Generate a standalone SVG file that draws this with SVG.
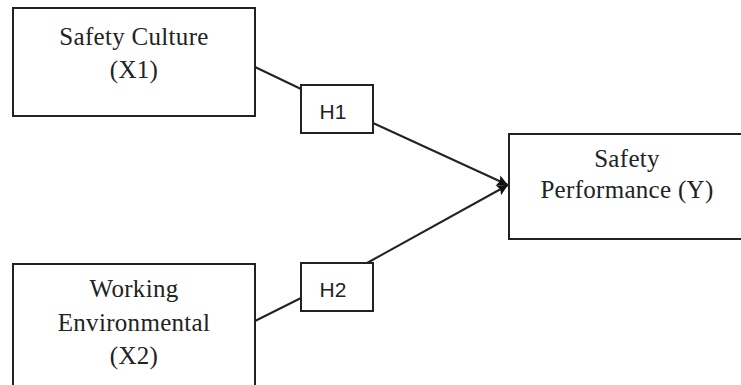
<svg xmlns="http://www.w3.org/2000/svg" width="741" height="385" viewBox="0 0 741 385">
<defs>
<style>
.box{fill:#fff;stroke:#222;stroke-width:2}
.serif{font-family:"Liberation Serif","Times New Roman",serif;font-size:25px;fill:#222;text-anchor:middle;letter-spacing:0.3px}
.sans{font-family:"Liberation Sans",Arial,sans-serif;font-size:21px;fill:#222;text-anchor:middle}
.edge{fill:none;stroke:#222;stroke-width:2}
</style>
<marker id="arrow" viewBox="0 0 10 10" refX="10" refY="5" markerWidth="12" markerHeight="11" markerUnits="userSpaceOnUse" orient="auto" overflow="visible">
<path d="M0,0 L10,5 L0,10 L2,5 z" fill="#111"/>
</marker>
</defs>
<rect width="741" height="385" fill="#fff"/>
<g id="connectors">
<line class="edge" x1="255" y1="67" x2="301" y2="89"/>
<line class="edge" x1="255" y1="321" x2="301" y2="298"/>
<line class="edge" x1="373" y1="123" x2="508" y2="185" marker-end="url(#arrow)"/>
<line class="edge" x1="367" y1="263" x2="508" y2="185" marker-end="url(#arrow)"/>
</g>
<g id="safety-culture">
<rect class="box" x="13" y="8" width="242" height="108"/>
<text class="serif" x="134" y="45">Safety Culture</text>
<text class="serif" x="134" y="78">(X1)</text>
</g>
<g id="working-environmental">
<rect class="box" x="13" y="264" width="242" height="130"/>
<text class="serif" x="134" y="297">Working</text>
<text class="serif" x="134" y="331">Environmental</text>
<text class="serif" x="134" y="364">(X2)</text>
</g>
<g id="h1">
<rect class="box" x="301" y="85" width="72" height="48"/>
<text class="sans" x="333" y="119">H1</text>
</g>
<g id="h2">
<rect class="box" x="301" y="263" width="72" height="48"/>
<text class="sans" x="333" y="297">H2</text>
</g>
<g id="safety-performance">
<rect class="box" x="509" y="134" width="240" height="105"/>
<text class="serif" x="627" y="167">Safety</text>
<text class="serif" x="627" y="198">Performance (Y)</text>
</g>
</svg>
